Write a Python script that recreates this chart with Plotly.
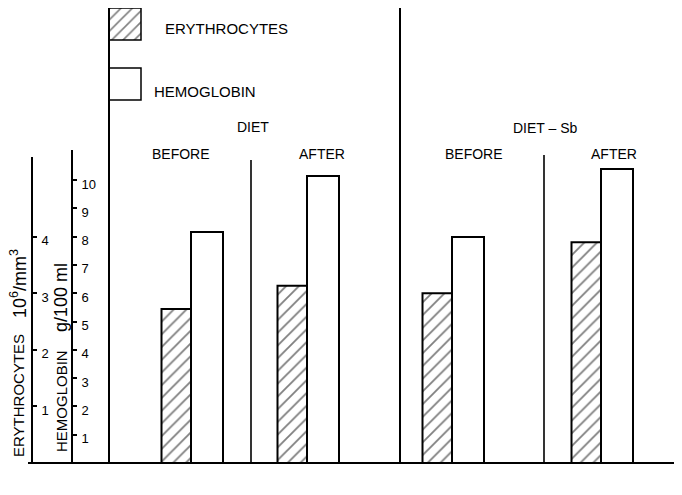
import plotly.graph_objects as go

# ---------------- data ----------------
categories = ["DIET BEFORE", "DIET AFTER", "DIET-Sb BEFORE", "DIET-Sb AFTER"]
erythrocytes = [2.72, 3.13, 3.00, 3.90]      # 10^6 / mm^3
hemoglobin = [8.16, 10.14, 7.99, 10.39]      # g / 100 ml
hb_ticks = [1, 2, 3, 4, 5, 6, 7, 8, 9, 10]
ery_ticks = [1, 2, 3, 4]
group_labels = ["DIET", "DIET \u2013 Sb"]
phase_labels = ["BEFORE", "AFTER", "BEFORE", "AFTER"]
legend_labels = ["ERYTHROCYTES", "HEMOGLOBIN"]

# ---------------- layout constants (pixels) ----------------
W, H = 682, 495
BASE = 455          # baseline pixel (value 0)
HB_PX = 28.3        # pixels per g/100 ml
ERY_PX = 56.6       # pixels per 10^6/mm^3
X_GROUP = [183, 299, 444, 593]   # boundary between the two bars of each pair
ERY_W, HB_W = 29.5, 32
DIV_X = [243, 536]
FONT = "Liberation Sans, Arial, sans-serif"


def py(p):
    return 1 - p / H


def pxp(x):
    return x / W


fig = go.Figure()

fig.add_trace(go.Bar(
    name="ERYTHROCYTES", x=X_GROUP, y=erythrocytes, offset=-ERY_W, width=ERY_W,
    xaxis="x", yaxis="y2",
    marker=dict(color="white", line=dict(color="black", width=2),
                pattern=dict(shape="/", fgcolor="black", bgcolor="white", size=9, solidity=0.2)),
    hovertext=categories, showlegend=False))

fig.add_trace(go.Bar(
    name="HEMOGLOBIN", x=X_GROUP, y=hemoglobin, offset=0, width=HB_W,
    xaxis="x", yaxis="y",
    marker=dict(color="white", line=dict(color="black", width=2)),
    hovertext=categories, showlegend=False))

# legend swatches (pixel coordinate axis y3)
fig.add_trace(go.Bar(
    x=[117], y=[32], base=[0], width=[32], xaxis="x", yaxis="y3",
    marker=dict(color="white", line=dict(color="black", width=1.5),
                pattern=dict(shape="/", fgcolor="black", bgcolor="white", size=8, solidity=0.2)),
    showlegend=False, hoverinfo="skip"))
fig.add_trace(go.Bar(
    x=[117], y=[32], base=[60], width=[32], xaxis="x", yaxis="y3",
    marker=dict(color="white", line=dict(color="black", width=1.5)),
    showlegend=False, hoverinfo="skip"))

axis_common = dict(showgrid=False, zeroline=False, showline=True, linecolor="black",
                   linewidth=2, ticks="outside", ticklen=4, tickwidth=1.5, tickcolor="black",
                   tickfont=dict(family=FONT, size=13, color="black"), automargin=False,
                   side="right", anchor="free", ticklabelshift=4, ticklabelstandoff=2)

hb_top, ery_top = 142, 149
fig.update_layout(
    width=W, height=H,
    margin=dict(l=0, r=0, t=0, b=0, pad=0, autoexpand=False),
    paper_bgcolor="white", plot_bgcolor="rgba(0,0,0,0)",
    barmode="overlay", showlegend=False,
    font=dict(family=FONT, color="black"),
    xaxis=dict(domain=[0, 1], range=[0, W], visible=False, fixedrange=True),
    yaxis=dict(domain=[py(BASE), py(hb_top)], range=[0, (BASE - hb_top) / HB_PX],
               position=pxp(64), tickvals=hb_ticks, ticktext=[str(v) for v in hb_ticks],
               **axis_common),
    yaxis2=dict(domain=[py(BASE), py(ery_top)], range=[0, (BASE - ery_top) / ERY_PX],
                position=pxp(24), tickvals=ery_ticks, ticktext=[str(v) for v in ery_ticks],
                **axis_common),
    yaxis3=dict(domain=[0, 1], range=[H, 0], visible=False, anchor="x"),
)

line = dict(color="black", width=2)
shapes = [
    dict(type="line", xref="paper", yref="paper", x0=pxp(20), x1=1, y0=py(BASE), y1=py(BASE), line=line),
    dict(type="line", xref="paper", yref="paper", x0=pxp(101), x1=pxp(101), y0=py(0), y1=py(BASE), line=line),
    dict(type="line", xref="paper", yref="paper", x0=pxp(392), x1=pxp(392), y0=py(0), y1=py(BASE), line=line),
    dict(type="line", xref="paper", yref="paper", x0=pxp(DIV_X[0]), x1=pxp(DIV_X[0]), y0=py(152), y1=py(BASE), line=dict(color="black", width=1.6)),
    dict(type="line", xref="paper", yref="paper", x0=pxp(DIV_X[1]), x1=pxp(DIV_X[1]), y0=py(147), y1=py(BASE), line=dict(color="black", width=1.6)),
]
fig.update_layout(shapes=shapes)


def ann(text, x, y, size=14, xanchor="center", angle=0):
    fig.add_annotation(text=text, x=pxp(x), y=py(y), xref="paper", yref="paper",
                       showarrow=False, xanchor=xanchor, yanchor="middle", textangle=angle,
                       font=dict(family=FONT, size=size, color="black"))


ann(group_labels[0], DIV_X[0] + 2, 119)
ann(group_labels[1], DIV_X[1] + 1, 120)
for lab, x in zip(phase_labels, [DIV_X[0] - 70, DIV_X[0] + 71, DIV_X[1] - 70, DIV_X[1] + 70]):
    ann(lab, x, 146)
ann(legend_labels[0], 155, 20, size=15, xanchor="left")
ann(legend_labels[1], 144, 84, size=15, xanchor="left")

# axis titles (rotated)
ann("ERYTHROCYTES", 10, 388, size=15, angle=-90)
ann("10<sup>6</sup>/mm<sup>3</sup>", 10, 276, size=18, angle=-90)
ann("HEMOGLOBIN", 53, 393, size=15, angle=-90)
ann("g/100 ml", 53, 290, size=18, angle=-90)

fig.write_html("out.html")
